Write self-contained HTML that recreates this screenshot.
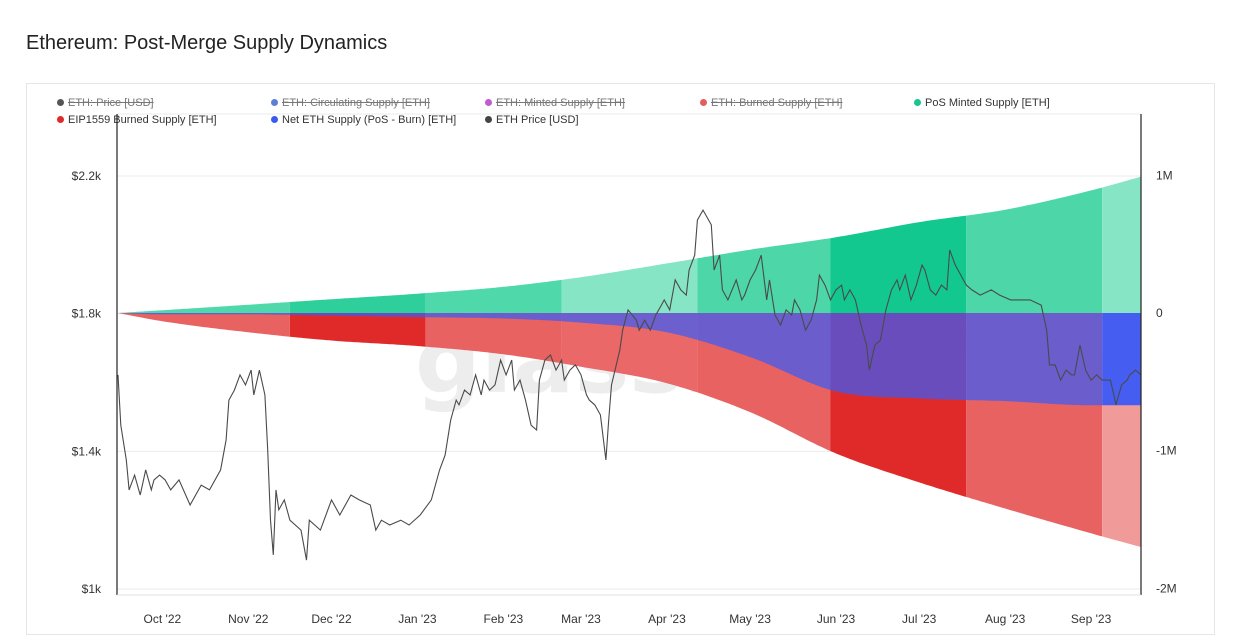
<!DOCTYPE html>
<html><head><meta charset="utf-8">
<style>
body{margin:0;background:#fff;font-family:"Liberation Sans",sans-serif;}
#wrap{position:relative;width:1242px;height:642px;overflow:hidden;background:#fff;}
#title{position:absolute;left:26px;top:32px;font-size:20px;color:#222;}
#card{position:absolute;left:26px;top:83px;width:1189px;height:552px;border:1px solid #e6e6e6;box-sizing:border-box;}
.leg{position:absolute;font-size:11px;color:#333;white-space:nowrap;}
.leg i{display:inline-block;width:7px;height:7px;border-radius:50%;margin-right:4px;vertical-align:0px;}
.off{color:#777;text-decoration:line-through;}
svg{position:absolute;left:0;top:0;}
</style></head><body>
<div id="wrap">
<div id="title">Ethereum: Post-Merge Supply Dynamics</div>
<div id="card"></div>
<div class="leg off" style="left:57px;top:97px"><i style="background:#555"></i>ETH: Price [USD]</div>
<div class="leg off" style="left:271px;top:97px"><i style="background:#5b7fd6"></i>ETH: Circulating Supply [ETH]</div>
<div class="leg off" style="left:485px;top:97px"><i style="background:#c05bd0"></i>ETH: Minted Supply [ETH]</div>
<div class="leg off" style="left:700px;top:97px"><i style="background:#e06060"></i>ETH: Burned Supply [ETH]</div>
<div class="leg" style="left:914px;top:97px"><i style="background:#17c58e"></i>PoS Minted Supply [ETH]</div>
<div class="leg" style="left:57px;top:114px"><i style="background:#e02a2a"></i>EIP1559 Burned Supply [ETH]</div>
<div class="leg" style="left:271px;top:114px"><i style="background:#3b5bf0"></i>Net ETH Supply (PoS - Burn) [ETH]</div>
<div class="leg" style="left:485px;top:114px"><i style="background:#444"></i>ETH Price [USD]</div>
<svg id="chart" width="1242" height="642"></svg>
</div>
<script>
const supplyDays=[0,16,47,77,108,139,167,198,228,259,289,320,351,369];
const mintedM=[0,0.02,0.06,0.10,0.14,0.19,0.26,0.36,0.46,0.55,0.66,0.75,0.89,0.99];
const burnedM=[0,0.06,0.14,0.20,0.24,0.30,0.39,0.51,0.72,1.02,1.23,1.42,1.60,1.70];
const netM=[0,-0.01,-0.01,-0.02,-0.03,-0.04,-0.07,-0.14,-0.32,-0.57,-0.62,-0.64,-0.67,-0.67];
const bandDays=[0,62,111,160,209,257,306,355,369];
const greenShades=['#4fd8aa','#2ecf9a','#4fd8aa','#86e5c5','#4dd6a8','#12c88f','#4dd6a8','#86e5c5'];
const redShades=['#e96262','#e02a2a','#e96262','#ea6868','#e96262','#e02a2a','#e96262','#f09a9a'];
const priceDays=[0,1,3,4,6,8,10,12,13,15,17,19,22,26,30,33,37,39,40,42,44,46,48,49,51,53,54,55,56,57,58,60,62,66,68,69,73,77,80,84,87,91,93,95,98,102,105,109,113,116,118,120,122,123,125,127,129,131,132,134,136,138,140,142,143,145,147,149,151,152,154,156,158,160,161,163,165,167,169,170,172,174,176,177,178,181,182,184,187,188,190,192,194,196,197,199,201,203,205,206,208,209,211,212,214,215,217,218,220,223,225,226,228,230,232,234,235,237,239,241,243,244,246,248,250,252,253,255,257,259,261,262,264,266,268,270,271,273,275,277,279,281,282,284,286,288,290,291,293,295,297,299,300,302,304,306,308,311,315,318,322,326,329,333,335,336,338,340,342,344,345,347,349,351,353,355,358,360,362,364,365,367,369];
const priceUSD=[1622,1476,1375,1288,1331,1273,1346,1288,1317,1331,1317,1288,1317,1244,1302,1288,1346,1433,1549,1578,1622,1593,1636,1564,1636,1564,1404,1200,1099,1288,1230,1259,1200,1171,1084,1200,1171,1259,1215,1273,1259,1244,1171,1200,1186,1200,1186,1215,1259,1346,1389,1491,1549,1535,1578,1564,1622,1564,1607,1578,1593,1665,1622,1665,1578,1607,1549,1476,1462,1607,1665,1680,1636,1665,1607,1636,1651,1622,1564,1549,1535,1506,1375,1491,1593,1694,1752,1811,1781,1752,1781,1752,1796,1825,1840,1811,1898,1869,1854,1927,1970,2072,2101,2087,2058,1927,1970,1869,1840,1898,1840,1854,1898,1927,1970,1840,1898,1796,1767,1811,1796,1840,1811,1752,1781,1840,1912,1883,1840,1869,1883,1840,1869,1840,1767,1709,1636,1709,1723,1811,1869,1898,1869,1912,1840,1883,1941,1927,1869,1854,1883,1869,1985,1941,1912,1883,1869,1854,1869,1854,1840,1840,1840,1825,1752,1651,1651,1607,1636,1622,1622,1709,1636,1607,1622,1607,1607,1535,1593,1607,1622,1636,1622];
const leftTicks=['$1k','$1.4k','$1.8k','$2.2k'];
const leftTickVals=[1000,1400,1800,2200];
const rightTicks=['-2M','-1M','0','1M'];
const rightTickVals=[-2,-1,0,1];
const monthLabels=["Oct '22","Nov '22","Dec '22","Jan '23","Feb '23","Mar '23","Apr '23","May '23","Jun '23","Jul '23","Aug '23","Sep '23"];
const monthDays=[16,47,77,108,139,167,198,228,259,289,320,351];

const NS='http://www.w3.org/2000/svg';
const svg=document.getElementById('chart');
const X0=118,X1=1141,D0=0,D1=369;
const xs=d=>X0+(d-D0)/(D1-D0)*(X1-X0);
const yP=p=>589-(p-1000)/1200*413;
const yS=m=>313-m*137.7;
function mk(t,a){const e=document.createElementNS(NS,t);for(const k in a)e.setAttribute(k,a[k]);svg.appendChild(e);return e;}
// monotone cubic (Fritsch-Carlson) interpolation through the data points
function interp(arr,d){
 const xsA=supplyDays,n=xsA.length;const dl=[],m=[];
 for(let i=0;i<n-1;i++)dl.push((arr[i+1]-arr[i])/(xsA[i+1]-xsA[i]));
 m.push(dl[0]);for(let i=1;i<n-1;i++){m.push(dl[i-1]*dl[i]<=0?0:(dl[i-1]+dl[i])/2);}m.push(dl[n-2]);
 for(let i=0;i<n-1;i++){if(dl[i]===0){m[i]=0;m[i+1]=0;continue;}const a=m[i]/dl[i],b=m[i+1]/dl[i],s=a*a+b*b;if(s>9){const t=3/Math.sqrt(s);m[i]=t*a*dl[i];m[i+1]=t*b*dl[i];}}
 let i=0;while(i<n-2&&d>xsA[i+1])i++;
 const h=xsA[i+1]-xsA[i],t=(d-xsA[i])/h,t2=t*t,t3=t2*t;
 return (2*t3-3*t2+1)*arr[i]+(t3-2*t2+t)*h*m[i]+(-2*t3+3*t2)*arr[i+1]+(t3-t2)*h*m[i+1];
}
function areaPath(arr,a,b){let pts=[];for(let d=a;d<b;d+=1)pts.push(xs(d).toFixed(1)+','+yS(interp(arr,d)).toFixed(1));
 pts.push(xs(b).toFixed(1)+','+yS(interp(arr,b)).toFixed(1));
 return 'M'+xs(a)+','+yS(0)+' L'+pts.join(' L')+' L'+xs(b)+','+yS(0)+' Z';}

leftTickVals.forEach((v,i)=>{const g=mk('line',{x1:117,x2:1141,y1:yP(v),y2:yP(v),stroke:'#ebebeb','stroke-width':1});
});
const tg=mk('line',{x1:117,x2:1141,y1:114,y2:114,stroke:'#ebebeb'});

const wm=mk('text',{x:415,y:392,'font-size':92,'font-family':'DejaVu Sans, sans-serif','font-weight':'bold',fill:'#ededed'});
wm.textContent='glassnode';
for(let i=0;i<bandDays.length-1;i++){
 const a=bandDays[i],b=bandDays[i+1];
 const g=mk('path',{d:areaPath(mintedM,a,b),fill:greenShades[i]});
 
 const r=mk('path',{d:areaPath(burnedM.map(v=>-v),a,b),fill:redShades[i]});
 
}
for(let i=0;i<bandDays.length-1;i++){
 const a=bandDays[i],b=bandDays[i+1];
 const n=mk('path',{d:areaPath(netM,a,b),fill:'#3b5bf5','fill-opacity':i===bandDays.length-2?0.95:0.72});
 
}
const pp=priceDays.map((d,i)=>xs(d).toFixed(1)+','+yP(priceUSD[i]).toFixed(1)).join(' L');
const pl=mk('path',{d:'M'+pp,fill:'none',stroke:'#4a4a4a','stroke-width':1.1});

const la=mk('line',{x1:117,x2:117,y1:114,y2:595,stroke:'#222','stroke-width':1.2});

const ra=mk('line',{x1:1141,x2:1141,y1:114,y2:595,stroke:'#222','stroke-width':1.2});

const ba=mk('line',{x1:117,x2:1141,y1:595,y2:595,stroke:'#e0e0e0'});

leftTicks.forEach((t,i)=>{const e=mk('text',{x:101,y:yP(leftTickVals[i])+4,'text-anchor':'end','font-size':12,fill:'#333','font-family':'Liberation Sans, sans-serif'});e.textContent=t;
});
rightTicks.forEach((t,i)=>{const e=mk('text',{x:1156,y:yS(rightTickVals[i])+4,'font-size':12,fill:'#333','font-family':'Liberation Sans, sans-serif'});e.textContent=t;
});
monthLabels.forEach((t,i)=>{const e=mk('text',{x:xs(monthDays[i]),y:623,'text-anchor':'middle','font-size':12,fill:'#333','font-family':'Liberation Sans, sans-serif'});e.textContent=t;
});
</script>
</body></html>
